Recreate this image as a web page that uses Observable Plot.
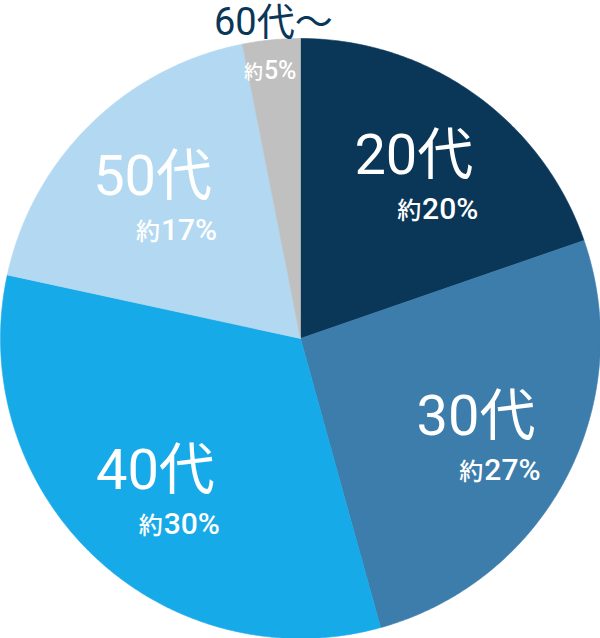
<!DOCTYPE html>
<html>
<head>
<meta charset="utf-8">
<script src="https://cdn.jsdelivr.net/npm/d3@7"></script>
<script src="https://cdn.jsdelivr.net/npm/@observablehq/plot@0.6"></script>
<style>
  html, body { margin: 0; padding: 0; background: #fff; }
  #chart svg { display: block; }
</style>
</head>
<body>
<div id="chart"></div>
<script>
// ---- data ----
const ages = ["20代", "30代", "40代", "50代", "60代～"];
const shares = [19.7, 26.0, 32.7, 18.5, 3.1];
const shareLabels = ["約20%", "約27%", "約30%", "約17%", "約5%"];
const sliceColors = ["#0a3658", "#3c7dab", "#17aae8", "#b3d9f2", "#c0c0c0"];
const outsideLabelColor = "#0a3658";

// ---- geometry ----
const FONT = "Roboto, 'Noto Sans CJK JP', sans-serif";
const data = ages.map((age, i) => ({age, share: shares[i], label: shareLabels[i]}));
const arcs = d3.pie().sort(null).value(d => d.share)(data);
const polar = (a, r) => [r * Math.sin(a), r * Math.cos(a)];

const step = Math.PI / 360;
const outline = arcs.flatMap(a => {
  const n = Math.max(2, Math.ceil((a.endAngle - a.startAngle) / step));
  const pts = [{age: a.data.age, x: 0, y: 0}];
  for (let k = 0; k <= n; ++k) {
    const t = a.startAngle + (a.endAngle - a.startAngle) * k / n;
    const [x, y] = polar(t, 1);
    pts.push({age: a.data.age, x, y});
  }
  pts.push({age: a.data.age, x: 0, y: 0});
  return pts;
});

const ctx = document.createElement("canvas").getContext("2d");
const measure = (s, size, w = 400) => { ctx.font = `${w} ${size}px ${FONT}`; return ctx.measureText(s).width; };

const rows = [];
for (const a of arcs) {
  const d = a.data;
  const mid = (a.startAngle + a.endAngle) / 2;
  const prefix = d.label.slice(0, 1), pct = d.label.slice(1);
  if (d.share >= 5) {
    const [x, y] = polar(mid, 0.68);
    const right = -5 + measure(d.age, 56) / 2 + 5;
    const pctW = measure(pct, 30, 500);
    rows.push({x, y, text: d.age, size: 56, weight: 400, anchor: "middle", dx: -5, dy: 2, fill: "white"});
    rows.push({x, y, text: pct, size: 30, weight: 500, anchor: "end", dx: right, dy: 47, fill: "white"});
    rows.push({x, y, text: prefix, size: 24, weight: 500, anchor: "end", dx: right - pctW - 1, dy: 47, fill: "white"});
  } else {
    const [x0, y0] = polar(mid, 1);
    rows.push({x: x0, y: y0, text: d.age, size: 38, weight: 400, anchor: "middle", dx: 2, dy: -5, fill: outsideLabelColor});
    const [x1, y1] = polar(mid, 0.89);
    const pctW = measure(pct, 25, 500);
    rows.push({x: x1, y: y1, text: pct, size: 25, weight: 500, anchor: "end", dx: 22, dy: 6, fill: "white"});
    rows.push({x: x1, y: y1, text: prefix, size: 19, weight: 500, anchor: "end", dx: 22 - pctW - 1, dy: 6, fill: "white"});
  }
}

const chart = Plot.plot({
  width: 600,
  height: 638,
  marginTop: 38, marginRight: 0, marginBottom: 0, marginLeft: 0,
  x: {domain: [-1, 1], axis: null},
  y: {domain: [-1, 1], axis: null},
  color: {domain: ages, range: sliceColors},
  style: {fontFamily: FONT, background: "white", overflow: "visible"},
  marks: [
    Plot.line(outline, {x: "x", y: "y", z: "age", fill: "age", stroke: "age", strokeWidth: 0.6, curve: "linear"}),
    ...rows.map(r => Plot.text([r], {
      x: "x", y: "y", text: "text",
      fontSize: r.size, fontFamily: FONT, fontWeight: r.weight,
      textAnchor: r.anchor, lineAnchor: "bottom",
      dx: r.dx, dy: r.dy, fill: r.fill
    }))
  ]
});
document.getElementById("chart").append(chart);
</script>
</body>
</html>
